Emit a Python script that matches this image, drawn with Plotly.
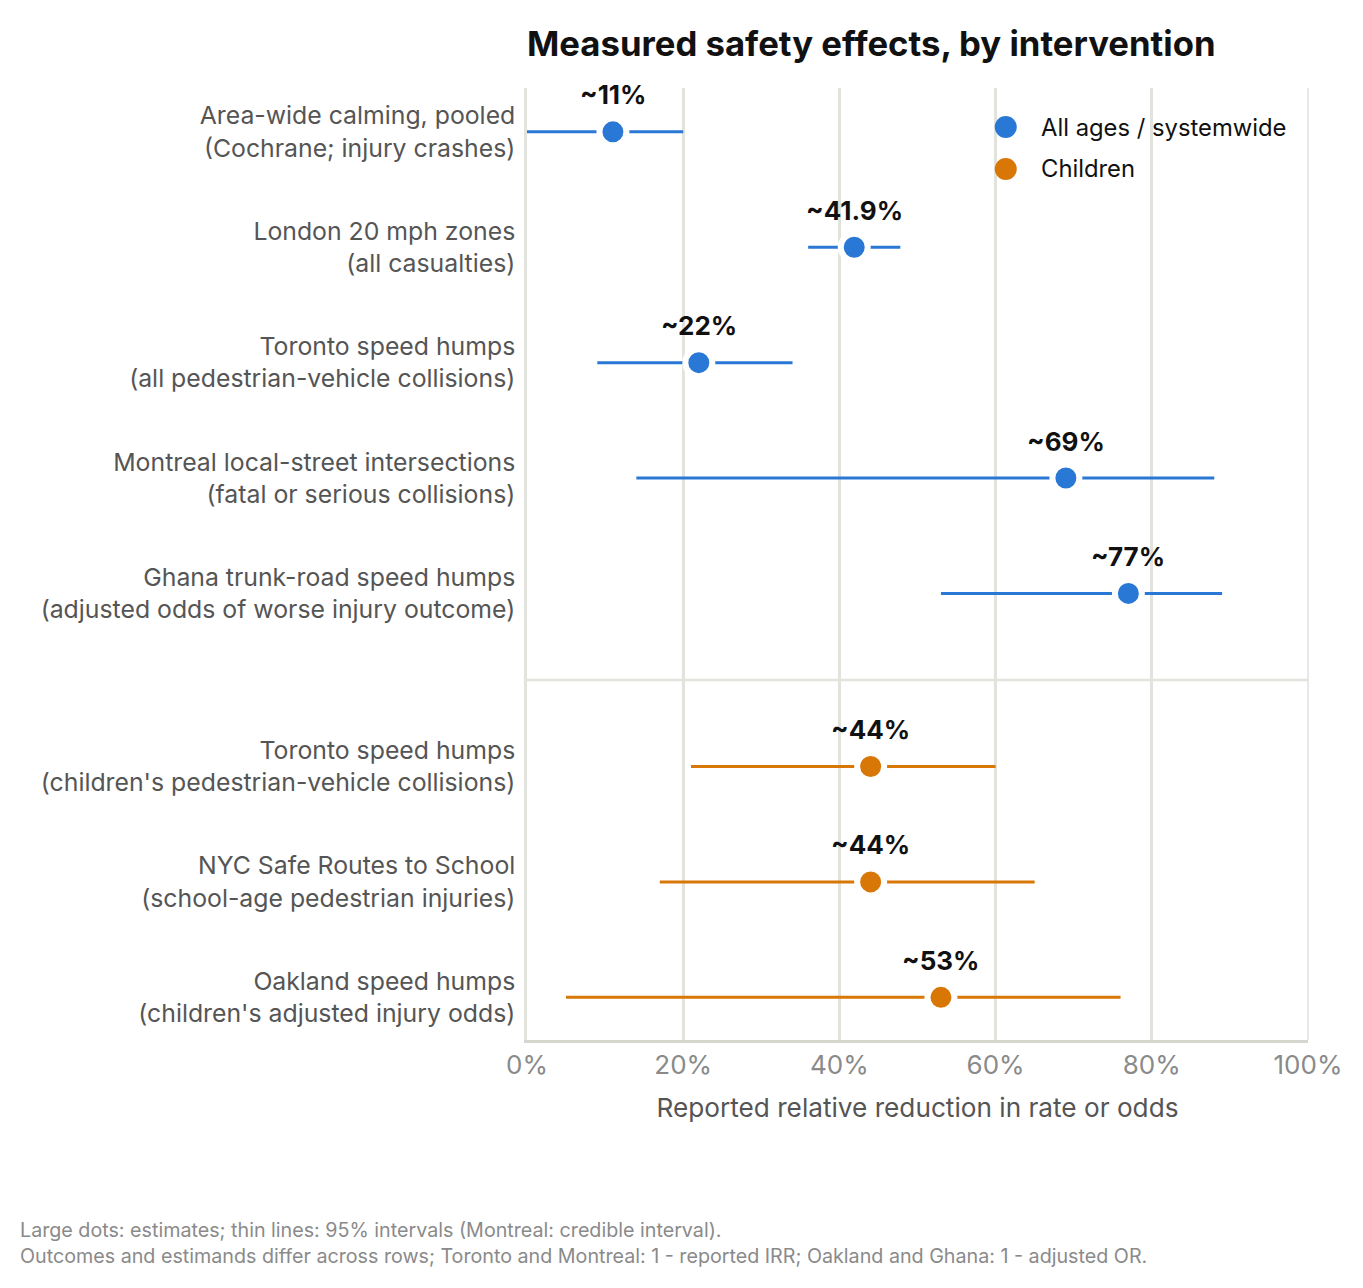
import plotly.graph_objects as go

# ---- data ----
labels = [
    "Area-wide calming, pooled<br>(Cochrane; injury crashes)",
    "London 20 mph zones<br>(all casualties)",
    "Toronto speed humps<br>(all pedestrian-vehicle collisions)",
    "Montreal local-street intersections<br>(fatal or serious collisions)",
    "Ghana trunk-road speed humps<br>(adjusted odds of worse injury outcome)",
    "Toronto speed humps<br>(children's pedestrian-vehicle collisions)",
    "NYC Safe Routes to School<br>(school-age pedestrian injuries)",
    "Oakland speed humps<br>(children's adjusted injury odds)",
]
row_pos = [0, 1, 2, 3, 4, 5.5, 6.5, 7.5]
groups = ["all", "all", "all", "all", "all", "child", "child", "child"]
estimate = [11, 41.9, 22, 69, 77, 44, 44, 53]
ci_low = [0, 36, 9, 14, 53, 21, 17, 5]
ci_high = [20, 47.8, 34, 88, 89, 60, 65, 76]
est_text = ["~11%", "~41.9%", "~22%", "~69%", "~77%", "~44%", "~44%", "~53%"]
group_names = {"all": "All ages / systemwide", "child": "Children"}
x_ticks = [0, 20, 40, 60, 80, 100]
x_tick_labels = ["0%", "20%", "40%", "60%", "80%", "100%"]
separator_pos = 4.75

colors = {"all": "#2a78d6", "child": "#d97706"}
FONT = "Inter, Liberation Sans, Arial, sans-serif"

# layout geometry (figure sits 8px inside the page)
W, H = 1355, 1280
L, R, T, B = 519, 55, 80, 248
PW, PH = W - L - R, H - T - B

fig = go.Figure()

for g in ["all", "child"]:
    idx = [i for i, gg in enumerate(groups) if gg == g]
    xs, ys = [], []
    for i in idx:
        xs += [ci_low[i], ci_high[i], None]
        ys += [row_pos[i], row_pos[i], None]
    fig.add_trace(go.Scatter(
        x=xs, y=ys, mode="lines",
        line=dict(color=colors[g], width=3),
        showlegend=False, hoverinfo="skip", cliponaxis=False,
    ))

for g in ["all", "child"]:
    idx = [i for i, gg in enumerate(groups) if gg == g]
    fig.add_trace(go.Scatter(
        x=[estimate[i] for i in idx], y=[row_pos[i] for i in idx],
        mode="markers",
        marker=dict(color=colors[g], size=27, line=dict(color="white", width=6)),
        name=group_names[g], showlegend=False, cliponaxis=False,
    ))

# value labels
for i in range(len(labels)):
    fig.add_annotation(
        x=estimate[i], y=row_pos[i], text="<b>" + est_text[i] + "</b>",
        showarrow=False, yshift=37, xref="x", yref="y",
        font=dict(family=FONT, size=26, color="#111111"),
    )

# custom legend on overlay axes
leg_y = [0.959, 0.915]
fig.add_trace(go.Scatter(
    x=[0.613, 0.613], y=leg_y, xaxis="x2", yaxis="y2", mode="markers",
    marker=dict(color=[colors["all"], colors["child"]], size=22),
    showlegend=False, hoverinfo="skip", cliponaxis=False,
))
for k, g in enumerate(["all", "child"]):
    fig.add_annotation(
        x=0.656, y=leg_y[k], xref="x2", yref="y2", text=group_names[g],
        showarrow=False, xanchor="left", yanchor="middle",
        font=dict(family=FONT, size=23.8, color="#111111"),
    )

# separator line
fig.add_shape(type="line", xref="paper", yref="y", x0=0, x1=1,
              y0=separator_pos, y1=separator_pos,
              line=dict(color="#e3e3dd", width=2.5), layer="below")
# right border
fig.add_shape(type="line", xref="paper", yref="paper", x0=1, x1=1, y0=0, y1=1,
              line=dict(color="#e0e0e0", width=1.5), layer="below")

fig.update_layout(
    width=W, height=H,
    margin=dict(l=L, r=R, t=T, b=B),
    paper_bgcolor="white", plot_bgcolor="white",
    font=dict(family=FONT),
    title=dict(text="<b>Measured safety effects, by intervention</b>",
               x=L / W, xanchor="left", y=1 - 36 / H, yanchor="middle",
               font=dict(family=FONT, size=34.7, color="#111111")),
    xaxis=dict(range=[0, 100], tickvals=x_ticks, ticktext=x_tick_labels,
               showgrid=True, gridcolor="#e3e3dd", gridwidth=2.5,
               zeroline=False, showline=True, linecolor="#d6d6ce", linewidth=2.5,
               ticks="", tickfont=dict(family=FONT, size=26, color="#8a8a8a"),
               title=dict(text="Reported relative reduction in rate or odds",
                          font=dict(family=FONT, size=26.2, color="#555555"),
                          standoff=20),
               fixedrange=True),
    yaxis=dict(range=[7.87, -0.38], tickvals=row_pos, ticktext=labels,
               showgrid=False, zeroline=False, showline=True,
               linecolor="#e3e3dd", linewidth=2.5, ticks="",
               ticklabelstandoff=4,
               tickfont=dict(family=FONT, size=24.8, color="#555555")),
    xaxis2=dict(domain=[0, 1], range=[0, 1], overlaying="x", visible=False),
    yaxis2=dict(domain=[0, 1], range=[0, 1], overlaying="y", visible=False),
)

fig.add_annotation(
    x=(18 - 527) / PW, y=(1040 - 1243) / PH, xref="paper", yref="paper",
    text="Large dots: estimates; thin lines: 95% intervals (Montreal: credible interval).<br>"
         "Outcomes and estimands differ across rows; Toronto and Montreal: 1 - reported IRR; Oakland and Ghana: 1 - adjusted OR.",
    showarrow=False, xanchor="left", yanchor="middle", align="left",
    font=dict(family=FONT, size=19.7, color="#8a8a8a"),
)

fig.write_html("out.html")
